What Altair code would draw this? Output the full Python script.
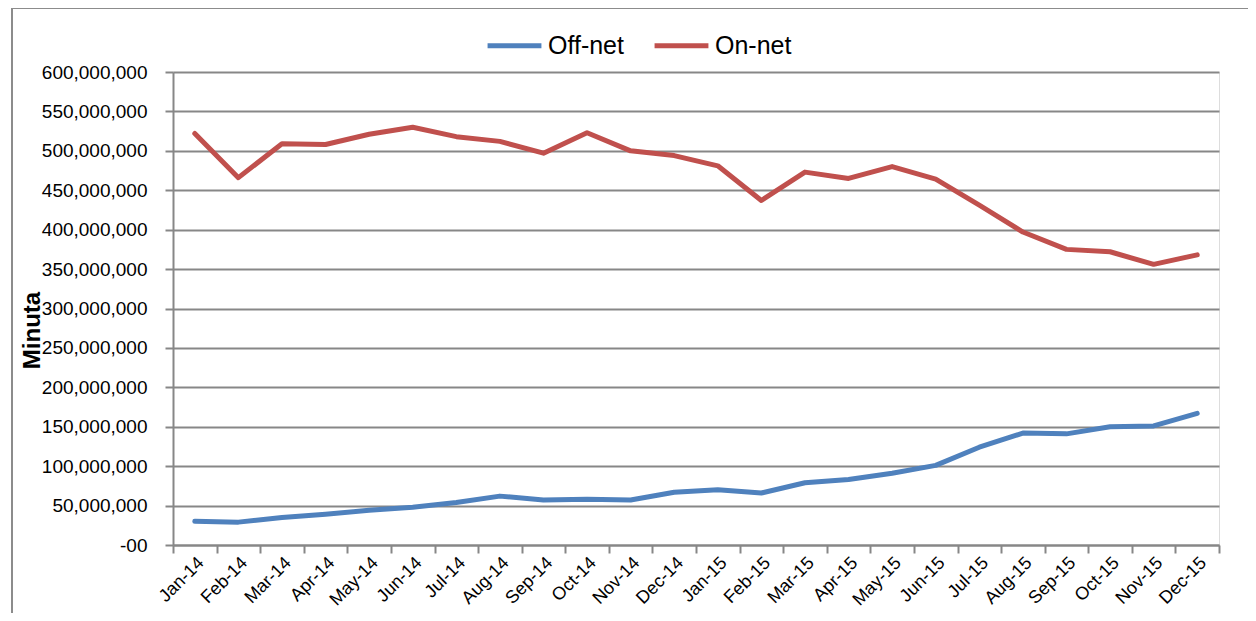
import altair as alt
import pandas as pd

months = ["Jan-14", "Feb-14", "Mar-14", "Apr-14", "May-14", "Jun-14", "Jul-14", "Aug-14",
          "Sep-14", "Oct-14", "Nov-14", "Dec-14", "Jan-15", "Feb-15", "Mar-15", "Apr-15",
          "May-15", "Jun-15", "Jul-15", "Aug-15", "Sep-15", "Oct-15", "Nov-15", "Dec-15"]

off_net = [30, 29, 35, 39, 44, 48, 54, 62, 57, 58, 57, 67,
           70, 66, 79, 83, 91, 101, 124, 142, 141, 150, 151, 167]
on_net = [522, 466, 509, 508, 521, 530, 518, 512, 497, 523, 500, 494,
          481, 437, 473, 465, 480, 464, 431, 397, 375, 372, 356, 368]

series_names = ["Off-net", "On-net"]
series_colors = ["#4F81BD", "#C0504D"]

rows = []
for i, m in enumerate(months):
    rows.append({"month": m, "series": "Off-net", "value": off_net[i] * 1_000_000})
    rows.append({"month": m, "series": "On-net", "value": on_net[i] * 1_000_000})
df = pd.DataFrame(rows)

FONT = "Liberation Sans"
GRID = "#878787"

lines = alt.Chart(df).mark_line(strokeWidth=5, strokeCap="round", strokeJoin="round").encode(
    x=alt.X("month:O", sort=months, bandPosition=0.5,
            scale=alt.Scale(type="band", domain=months, paddingInner=0, paddingOuter=0),
            axis=alt.Axis(title=None, labelAngle=-45, labelAlign="right", labelBaseline="middle",
                          tickBand="extent", labelPadding=7, labelOffset=6, tickSize=8,
                          tickColor=GRID, tickWidth=2, domainColor=GRID, domainWidth=2,
                          grid=False, labelFont=FONT, labelFontSize=18, labelColor="#000000")),
    y=alt.Y("value:Q",
            scale=alt.Scale(domain=[0, 600_000_000], nice=False),
            axis=alt.Axis(title="Minuta", values=list(range(0, 600_000_001, 50_000_000)),
                          labelExpr="datum.value == 0 ? '-00' : format(datum.value, ',')",
                          labelFont=FONT, labelFontSize=19, labelColor="#000000",
                          labelPadding=18, tickSize=8, tickColor=GRID, tickWidth=2,
                          domainColor=GRID, domainWidth=2, gridColor=GRID, gridWidth=2,
                          titleFont=FONT, titleFontSize=24, titleFontWeight="bold",
                          titleColor="#000000", titleAngle=-90, titleX=-141, titleY=258,
                          titleAlign="center", titleBaseline="middle")),
    color=alt.Color("series:N",
                    scale=alt.Scale(domain=series_names, range=series_colors),
                    legend=alt.Legend(title=None, orient="none", direction="horizontal",
                                      legendX=312, legendY=-56, symbolType="stroke",
                                      symbolSize=2900, symbolStrokeWidth=5,
                                      labelFont=FONT, labelFontSize=25, labelColor="#000000",
                                      columnPadding=20, labelOffset=4)),
)

frame_v = alt.Chart(df).mark_rule(color="#8c8c8c", strokeWidth=2, clip=False).encode(
    x=alt.value(-161), y=alt.value(-64), y2=alt.value(600))
frame_h = alt.Chart(df).mark_rule(color="#8c8c8c", strokeWidth=2, clip=False).encode(
    x=alt.value(-161), x2=alt.value(1100), y=alt.value(-64))

chart = alt.layer(lines, frame_v, frame_h).properties(
    width=1046, height=473,
    autosize=alt.AutoSizeParams(type="none"),
    padding={"left": 165, "top": 64, "right": 29, "bottom": 68},
).configure_view(stroke=None).configure(background="#ffffff")

chart.save("out.html", embed_options={"renderer": "svg", "actions": False})
